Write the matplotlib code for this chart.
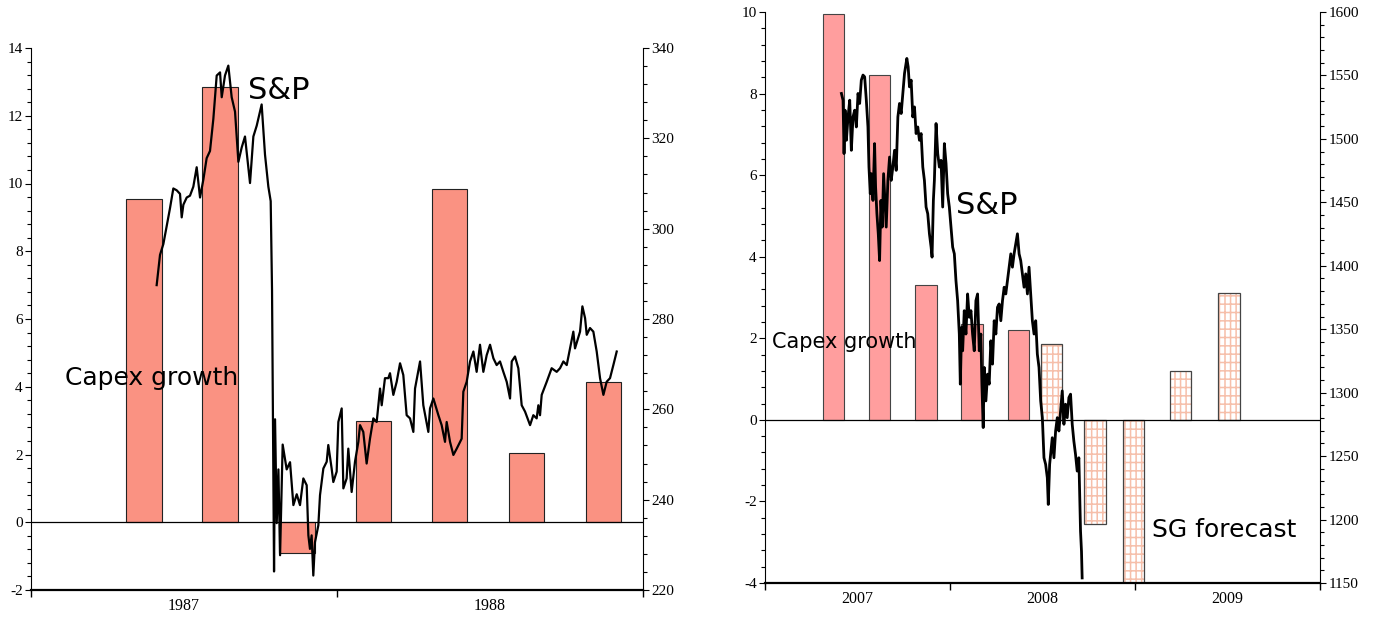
import numpy as np
import pandas as pd
import matplotlib
matplotlib.use('Agg')
import matplotlib.pyplot as plt
import matplotlib.dates as mdates
from matplotlib.ticker import MultipleLocator

# ---------------- Left panel data (1987-1988) ----------------
years_left = [1987, 1988]
capex87_quarter_mid = ['1987-05-16', '1987-08-15', '1987-11-15', '1988-02-14',
                       '1988-05-15', '1988-08-15', '1988-11-15']
capex87_growth = [9.55, 12.85, -0.9, 3.0, 9.85, 2.05, 4.15]

# S&P 500 level; days counted from 1987-01-01
sp87_day = [150.1, 154.1, 158.1, 162.1, 166.0, 170.0, 174.0, 178.0, 180.0, 182.0,
            186.0, 189.9, 193.9, 197.9, 201.9, 205.9, 209.8, 213.8, 217.8, 221.8,
            225.8, 227.8, 231.7, 235.7, 239.7, 243.7, 247.7, 251.7, 255.6, 261.6,
            265.6, 269.6, 275.5, 279.5, 283.5, 286.3, 287.9, 289.1, 290.3, 291.5,
            293.5, 295.5, 297.5, 300.6, 305.4, 309.4, 313.4, 317.4, 321.3,
            325.3, 329.3, 331.3, 333.2, 335.2, 337.2, 339.2, 343.2, 345.2, 349.2,
            353.2, 355.1, 359.1, 361.1, 365.1, 367.1, 371.1, 373.1, 377.0, 379.0,
            383.0, 387.0, 391.0, 393.0, 396.9, 400.9, 404.9, 408.9, 412.9, 416.9,
            418.9, 422.8, 426.8, 428.8, 432.8, 436.8, 440.8, 444.7, 448.7, 452.7,
            456.7, 458.7, 464.7, 468.6, 474.6, 476.6, 480.6, 486.6, 490.5, 494.5,
            496.5, 500.5, 504.5, 508.5, 514.4, 516.4, 520.4, 524.4, 528.4, 532.3,
            536.3, 540.3, 544.3, 548.3, 552.3, 556.2, 560.2, 564.2, 568.2, 572.2,
            574.2, 578.1, 582.1, 586.1, 590.1, 596.1, 600.0, 604.0, 606.0, 608.0,
            610.0, 616.0, 621.9, 627.9, 631.9, 635.9, 639.9, 643.9, 647.8, 649.8,
            655.8, 658.6, 661.8, 663.8, 667.7, 671.7, 675.7, 679.7, 683.7, 687.6,
            691.6, 695.6, 699.6]
sp87_level = [287.5, 294.2, 296.6, 300.6, 304.5, 308.9, 308.5, 307.7, 302.5, 305.3,
              306.9, 307.3, 309.3, 313.6, 306.9, 310.9, 315.6, 317.2, 324.3, 333.9,
              334.6, 329.1, 333.9, 336.1, 329.1, 325.9, 314.8, 318.0, 320.4, 310.1,
              320.4, 322.8, 327.5, 316.4, 309.3, 306.1, 286.3, 254.6, 224.1, 257.8,
              234.8, 246.7, 227.7, 252.2, 246.7, 248.3, 238.8, 241.2, 238.8,
              244.7, 243.2, 232.1, 229.1, 232.1, 223.2, 230.6, 234.3, 241.0, 246.9,
              248.4, 252.1, 246.9, 243.9, 246.2, 257.2, 260.2, 242.5, 244.7, 251.3,
              241.7, 248.4, 252.8, 256.5, 255.0, 248.0, 253.5, 258.0, 257.2, 264.6,
              260.9, 266.9, 266.9, 268.0, 263.2, 266.1, 270.2, 267.6, 258.7, 258.0,
              255.0, 264.6, 270.6, 260.9, 255.0, 260.2, 262.4, 258.7, 256.5, 252.8,
              257.2, 252.8, 249.9, 251.3, 253.5, 263.9, 266.1, 270.6, 272.8, 268.3,
              274.3, 268.3, 272.0, 274.3, 271.3, 269.8, 270.6, 268.3, 266.1, 262.4,
              270.6, 271.7, 269.1, 260.9, 259.5, 256.5, 258.7, 258.0, 260.9, 258.7,
              263.2, 266.1, 269.1, 268.3, 269.1, 270.6, 269.8, 273.5, 277.2, 273.5,
              277.2, 282.8, 280.2, 276.5, 278.0, 277.2, 272.8, 266.9, 263.2, 266.1,
              266.9, 269.8, 272.8]

# ---------------- Right panel data (2007-2009) ----------------
years_right = [2007, 2008, 2009]
capex07_quarter_mid = ['2007-05-16', '2007-08-15', '2007-11-15', '2008-02-14', '2008-05-16']
capex07_growth = [9.95, 8.45, 3.3, 2.35, 2.2]
sg_forecast_date = ['2008-07-20', '2008-10-14', '2008-12-29', '2009-04-01', '2009-07-05']
sg_forecast_growth = [1.85, -2.55, -4.0, 1.2, 3.1]

# S&P 500 level; days counted from 2007-01-01
sp07_day = [150.9, 154.1, 156.1, 158.1, 160.7, 164.0, 167.3, 170.5, 173.8, 177.1,
            180.4, 183.7, 186.9, 190.2, 193.5, 196.8, 200.1, 203.3, 205.3, 207.9,
            209.9, 213.2, 216.4, 218.4, 221.0, 223.7, 226.3, 228.9, 231.5, 234.2,
            236.8, 239.4, 242.7, 246.0, 249.2, 252.5, 255.8, 259.1, 262.4, 265.6,
            268.9, 272.2, 275.5, 280.1, 282.7, 285.3, 288.6, 291.9, 295.2, 298.4,
            301.7, 305.0, 308.3, 311.6, 314.8, 318.1, 321.4, 324.7, 328.0, 329.9,
            332.5, 334.5, 337.8, 341.1, 344.3, 347.6, 350.9, 354.2, 357.5, 360.7,
            364.0, 367.3, 370.6, 373.9, 377.1, 380.4, 383.7, 385.7, 388.3, 390.3,
            393.5, 396.8, 400.1, 403.4, 406.7, 409.9, 413.2, 416.5, 419.8, 423.1,
            426.3, 428.3, 430.9, 432.9, 436.2, 439.5, 442.7, 446.0, 449.3, 452.6,
            455.9, 459.1, 462.4, 465.7, 469.0, 472.3, 475.5, 478.8, 482.1, 485.4,
            488.6, 491.9, 495.2, 498.5, 501.8, 505.0, 508.3, 511.6, 514.9, 518.2,
            521.4, 524.7, 528.0, 531.3, 534.6, 537.8, 541.1, 544.4, 547.7,
            550.9, 554.2, 557.5, 559.4, 562.1, 564.7, 567.3, 570.6, 573.9, 577.2,
            580.4, 583.7, 587.0, 590.3, 593.5, 596.8, 600.1, 603.4, 606.7, 609.9,
            613.2, 616.5, 619.8, 623.1, 625.0, 626.3]
sp07_level = [1535.8, 1530.5, 1488.4, 1522.6, 1498.9, 1517.3, 1530.5, 1491.0, 1517.3, 1522.6,
              1509.4, 1535.8, 1527.9, 1546.3, 1550.3, 1548.9, 1530.5, 1509.4, 1477.8, 1456.8,
              1472.6, 1451.5, 1496.3, 1462.1, 1441.0, 1425.2, 1404.1, 1451.5, 1430.5, 1472.6,
              1451.5, 1430.5, 1467.3, 1485.7, 1467.3, 1477.8, 1491.0, 1475.2, 1517.3, 1527.9,
              1520.0, 1535.8, 1551.6, 1563.4, 1556.8, 1541.0, 1546.3, 1517.3, 1525.2, 1504.2,
              1509.4, 1498.9, 1504.2, 1477.8, 1467.3, 1446.3, 1441.0, 1425.2, 1414.7, 1406.8,
              1451.5, 1467.3, 1512.1, 1488.4, 1477.8, 1483.1, 1446.3, 1496.3, 1480.5, 1456.8,
              1446.3, 1430.5, 1414.7, 1409.4, 1388.3, 1372.5, 1346.2, 1306.7, 1351.5, 1333.0,
              1364.6, 1346.2, 1377.8, 1359.4, 1364.6, 1346.2, 1333.0, 1372.5, 1377.8, 1333.0,
              1346.2, 1306.7, 1272.5, 1319.9, 1293.5, 1314.6, 1306.7, 1340.9, 1322.5, 1356.7,
              1346.2, 1367.3, 1369.9, 1356.7, 1372.5, 1383.1, 1377.8, 1388.3, 1398.9, 1409.4,
              1398.9, 1409.4, 1417.3, 1425.2, 1409.4, 1404.1, 1393.6, 1383.1, 1393.6, 1377.8,
              1398.9, 1377.8, 1356.7, 1346.2, 1356.7, 1330.4, 1319.9, 1293.5, 1280.4,
              1248.7, 1243.5, 1232.9, 1211.9, 1243.5, 1254.0, 1264.5, 1248.7, 1269.8, 1280.3,
              1269.8, 1285.6, 1301.4, 1275.1, 1290.9, 1280.3, 1296.1, 1298.8, 1275.1, 1261.9,
              1251.4, 1238.2, 1248.7, 1190.8, 1175.0, 1154.0]

# ---------------- Styling ----------------
plt.rcParams['font.family'] = ['Liberation Serif', 'DejaVu Serif']
plt.rcParams['axes.unicode_minus'] = False
plt.rcParams['hatch.linewidth'] = 1.1
HAND = ['DejaVu Sans']
BAR_WIDTH_DAYS = 42.4


def to_num(dates):
    return mdates.date2num(pd.to_datetime(dates))


fig = plt.figure(figsize=(13.8, 6.18), dpi=100)


def make_panel(rect, years, ylim, ystep, yminor, y2lim, y2step, y2minor):
    ax = fig.add_axes(rect)
    ax2 = ax.twinx()
    edges = to_num([f'{y}-01-01' for y in years + [years[-1] + 1]])
    mids = to_num([f'{y}-07-02' for y in years])
    ax.set_xlim(edges[0], edges[-1])
    ax.set_xticks(edges)
    ax.set_xticklabels([])
    ax.set_xticks(mids, [str(y) for y in years], minor=True)
    ax.tick_params(axis='x', which='major', length=5, width=1.0, direction='out')
    ax.tick_params(axis='x', which='minor', length=0, pad=6, labelsize=11.5)

    ax.set_ylim(*ylim)
    ax.yaxis.set_major_locator(MultipleLocator(ystep))
    ax.yaxis.set_minor_locator(MultipleLocator(yminor))
    ax.tick_params(axis='y', which='major', length=4, width=0.8, pad=2, labelsize=11)
    ax.tick_params(axis='y', which='minor', length=3, width=0.8)

    ax2.set_ylim(*y2lim)
    ax2.yaxis.set_major_locator(MultipleLocator(y2step))
    ax2.yaxis.set_minor_locator(MultipleLocator(y2minor))
    ax2.tick_params(axis='y', which='major', length=4, width=0.8, pad=2, labelsize=11)
    ax2.tick_params(axis='y', which='minor', length=3, width=0.8)

    ax.spines['top'].set_visible(False)
    ax.spines['right'].set_visible(False)
    ax.spines['left'].set_linewidth(0.8)
    ax.spines['bottom'].set_linewidth(1.6)
    for s in ('top', 'left', 'bottom'):
        ax2.spines[s].set_visible(False)
    ax2.spines['right'].set_linewidth(0.8)
    ax.axhline(0, color='black', lw=0.9, zorder=3)
    return ax, ax2


# Left panel
axL, axL2 = make_panel([31 / 1380, 28 / 618, 612 / 1380, 542 / 618], years_left,
                       (-2, 14), 2, 0.4, (220, 340), 20, 4)
axL.bar(to_num(capex87_quarter_mid), capex87_growth, width=BAR_WIDTH_DAYS,
        color='#fa9282', edgecolor='#222222', linewidth=0.8, zorder=2)
x87 = mdates.date2num(pd.Timestamp('1987-01-01')) + np.array(sp87_day)
axL2.plot(x87, sp87_level, color='black', lw=1.6, zorder=4)
axL.text(0.355, 0.905, 'S&P', transform=axL.transAxes, family=HAND,
         fontsize=22, va='baseline', ha='left')
axL.text(0.056, 0.378, 'Capex growth', transform=axL.transAxes, family=HAND,
         fontsize=18, va='baseline', ha='left')

# Right panel
axR, axR2 = make_panel([765 / 1380, 35 / 618, 555 / 1380, 571 / 618], years_right,
                       (-4, 10), 2, 0.4, (1150, 1600), 50, 10)
axR.bar(to_num(capex07_quarter_mid), capex07_growth, width=BAR_WIDTH_DAYS,
        color='#ff9e9e', edgecolor='#444444', linewidth=0.8, zorder=2)
axR.bar(to_num(sg_forecast_date), sg_forecast_growth, width=BAR_WIDTH_DAYS,
        color='white', edgecolor='#f6bfaa', hatch='|||--', linewidth=0.0, zorder=2)
axR.bar(to_num(sg_forecast_date), sg_forecast_growth, width=BAR_WIDTH_DAYS,
        fill=False, edgecolor='#444444', linewidth=0.9, zorder=2.5)
x07 = mdates.date2num(pd.Timestamp('2007-01-01')) + np.array(sp07_day)
axR2.plot(x07, sp07_level, color='black', lw=2.0, zorder=4)
axR.text(0.345, 0.647, 'S&P', transform=axR.transAxes, family=HAND,
         fontsize=22, va='baseline', ha='left')
axR.text(0.013, 0.412, 'Capex growth', transform=axR.transAxes, family=HAND,
         fontsize=15, va='baseline', ha='left')
axR.text(0.697, 0.081, 'SG forecast', transform=axR.transAxes, family=HAND,
         fontsize=18, va='baseline', ha='left')

fig.savefig('out.png', dpi=100)
